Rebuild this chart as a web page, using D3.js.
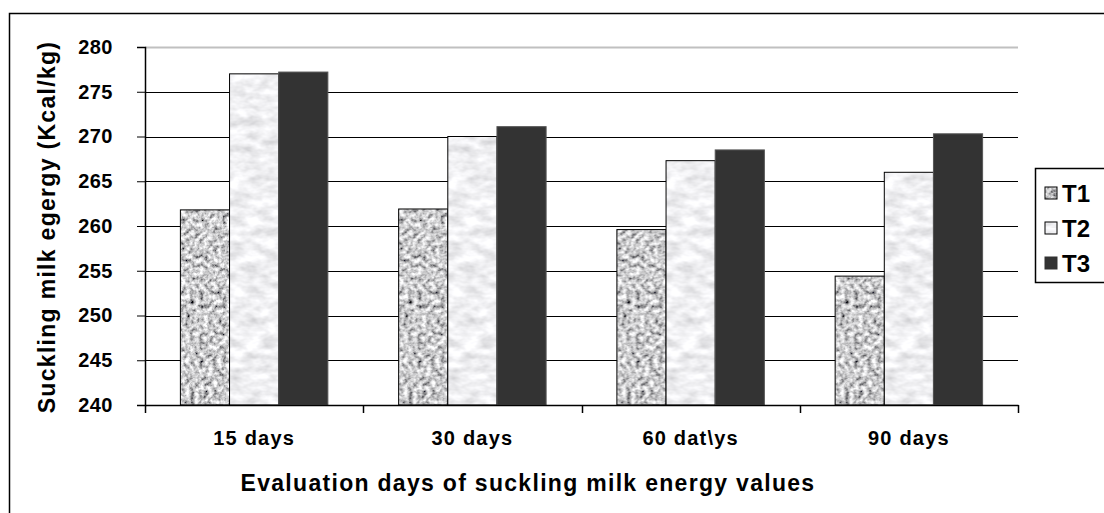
<!DOCTYPE html>
<html>
<head>
<meta charset="utf-8">
<script src="https://cdn.jsdelivr.net/npm/d3@7"></script>
<style>
  body { margin: 0; background: #fff; }
  text { font-family: Arial, "Liberation Sans", sans-serif; font-weight: bold; fill: #000; }
</style>
</head>
<body>
<svg id="chart"></svg>
<script>
var width = 1104, height = 513

// data
var days = ["15 days", "30 days", "60 dat\\ys", "90 days"]
var treatments = ["T1", "T2", "T3"]
var t1 = [261.8, 261.9, 259.6, 254.4]
var t2 = [277.0, 270.0, 267.3, 266.0]
var t3 = [277.2, 271.1, 268.5, 270.3]
var yTicks = [240, 245, 250, 255, 260, 265, 270, 275, 280]

var series = [t1, t2, t3]

var svg = d3.select("#chart")
    .attr("width", width)
    .attr("height", height)

var defs = svg.append("defs")

// granite texture for T1
var f1 = defs.append("filter").attr("id", "granite")
    .attr("filterUnits", "userSpaceOnUse")
    .attr("x", 0).attr("y", 0).attr("width", width).attr("height", height)
f1.append("feTurbulence")
    .attr("type", "fractalNoise")
    .attr("baseFrequency", "0.22")
    .attr("numOctaves", 3)
    .attr("seed", 4)
f1.append("feColorMatrix")
    .attr("type", "matrix")
    .attr("values", "1.7 0 0 0 -0.25  1.7 0 0 0 -0.25  1.7 0 0 0 -0.24  0 0 0 0 1")

// light marble texture for T2
var f2 = defs.append("filter").attr("id", "marble")
    .attr("filterUnits", "userSpaceOnUse")
    .attr("x", 0).attr("y", 0).attr("width", width).attr("height", height)
f2.append("feTurbulence")
    .attr("type", "fractalNoise")
    .attr("baseFrequency", "0.06 0.11")
    .attr("numOctaves", 3)
    .attr("seed", 7)
f2.append("feColorMatrix")
    .attr("type", "matrix")
    .attr("values", "0.6 0 0 0 0.57  0.6 0 0 0 0.57  0.6 0 0 0 0.59  0 0 0 0 1")

var p1 = defs.append("pattern").attr("id", "pat1")
    .attr("patternUnits", "userSpaceOnUse")
    .attr("width", width).attr("height", height)
p1.append("rect").attr("width", width).attr("height", height).attr("filter", "url(#granite)")
var p2 = defs.append("pattern").attr("id", "pat2")
    .attr("patternUnits", "userSpaceOnUse")
    .attr("width", width).attr("height", height)
p2.append("rect").attr("width", width).attr("height", height).attr("filter", "url(#marble)")

var fills = ["url(#pat1)", "url(#pat2)", "#333333"]
var strokes = ["#000", "#000", "#555"]

// outer frame (right and bottom run off the picture)
svg.append("rect")
    .attr("x", 9.5).attr("y", 13.5)
    .attr("width", 1120).attr("height", 520)
    .attr("fill", "none")
    .attr("stroke", "#000")
    .attr("stroke-width", 1.5)

var margin = {left: 145, right: 1018, top: 47, bottom: 405}

var x = d3.scaleBand()
    .domain(days)
    .range([margin.left, margin.right])
    .paddingInner(0)
    .paddingOuter(0)

var xInner = d3.scaleBand()
    .domain(treatments)
    .range([0, x.bandwidth()])
    .paddingOuter(0.72)
    .paddingInner(0)

var y = d3.scaleLinear()
    .domain([240, 280])
    .range([margin.bottom, margin.top])

// gridlines
svg.append("g")
    .selectAll("line")
    .data(yTicks.slice(1))
    .enter()
    .append("line")
        .attr("x1", margin.left)
        .attr("x2", margin.right)
        .attr("y1", d => Math.round(y(d)) + 0.5)
        .attr("y2", d => Math.round(y(d)) + 0.5)
        .attr("stroke", d => d == 280 ? "#c0c0c0" : "#000")
        .attr("stroke-width", d => d == 280 ? 2 : 1)

// bars
var groups = svg.append("g")
    .selectAll("g")
    .data(days)
    .enter()
    .append("g")
        .attr("transform", d => "translate(" + x(d) + ",0)")

groups.selectAll("rect")
    .data((d, i) => series.map((s, k) => ({t: treatments[k], v: s[i], k: k})))
    .enter()
    .append("rect")
        .attr("x", d => xInner(d.t))
        .attr("width", xInner.bandwidth())
        .attr("y", d => y(d.v))
        .attr("height", d => y(240) - y(d.v))
        .attr("fill", d => fills[d.k])
        .attr("stroke", d => strokes[d.k])
        .attr("stroke-width", 1)

// y axis
var yAxis = svg.append("g")
    .attr("transform", "translate(" + margin.left + ",0)")
    .call(d3.axisLeft(y).tickValues(yTicks).tickSize(8).tickPadding(24).tickFormat(d3.format("d")))
yAxis.select(".domain").attr("stroke", "#000").attr("stroke-width", 1.5)
yAxis.selectAll(".tick line").attr("stroke", "#000")
yAxis.selectAll(".tick text")
    .style("font-size", "20px")
    .style("letter-spacing", "0.5px")
    .attr("fill", "#000")

// x axis
var xAxis = svg.append("g")
    .attr("transform", "translate(0," + margin.bottom + ")")
    .call(d3.axisBottom(x).tickSize(0).tickPadding(26))
xAxis.select(".domain").attr("stroke", "#000").attr("stroke-width", 1.5)
xAxis.selectAll(".tick text")
    .style("font-size", "20px")
    .style("letter-spacing", "1.2px")
    .attr("fill", "#000")

// x boundary ticks
svg.append("g")
    .selectAll("line")
    .data(days.concat([null]))
    .enter()
    .append("line")
        .attr("x1", (d, i) => Math.round(margin.left + i * x.bandwidth()) + 0.5)
        .attr("x2", (d, i) => Math.round(margin.left + i * x.bandwidth()) + 0.5)
        .attr("y1", margin.bottom)
        .attr("y2", margin.bottom + 8)
        .attr("stroke", "#000")
        .attr("stroke-width", 1.5)

// axis titles
svg.append("text")
    .attr("x", 528)
    .attr("y", 491)
    .attr("text-anchor", "middle")
    .style("font-size", "23px")
    .style("letter-spacing", "1.3px")
    .text("Evaluation days of suckling milk energy values")

svg.append("text")
    .attr("transform", "translate(55,227) rotate(-90)")
    .attr("text-anchor", "middle")
    .style("font-size", "23px")
    .style("letter-spacing", "1.3px")
    .text("Suckling milk egergy (Kcal/kg)")

// legend
var legend = svg.append("g")
    .attr("transform", "translate(1035,168)")
legend.append("rect")
    .attr("x", 0.5).attr("y", 0.5)
    .attr("width", 100).attr("height", 114)
    .attr("fill", "#fff")
    .attr("stroke", "#000")
    .attr("stroke-width", 1.5)

var items = legend.selectAll("g.item")
    .data(treatments)
    .enter()
    .append("g")
        .attr("class", "item")
        .attr("transform", (d, i) => "translate(10," + (25 + i * 35) + ")")
items.append("rect")
    .attr("x", 0).attr("y", -6)
    .attr("width", 12).attr("height", 12)
    .attr("fill", (d, i) => fills[i])
    .attr("stroke", (d, i) => i == 2 ? "#333" : "#000")
    .attr("stroke-width", 1)
items.append("text")
    .attr("x", 17)
    .attr("dy", "0.36em")
    .style("font-size", "24px")
    .text(d => d)
</script>
</body>
</html>
